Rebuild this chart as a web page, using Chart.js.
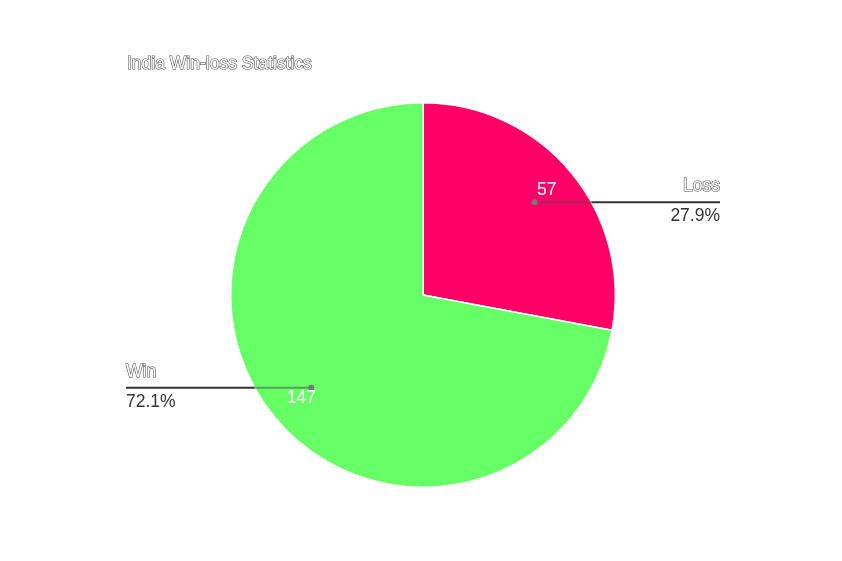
<!DOCTYPE html>
<html lang="en">
<head>
    <meta charset="UTF-8">
    <title>India Win-loss Statistics</title>
    <script src="https://cdn.jsdelivr.net/npm/chart.js"></script>
    <style>
        body {
            margin: 0;
            background: #fff;
        }
        #wrap {
            width: 842px;
            height: 561px;
        }
    </style>
</head>
<body>
    <div id="wrap">
        <canvas id="chart" width="842" height="561"></canvas>
    </div>

    <script>
        const chartTitle = 'India Win-loss Statistics';
        const categories = ['Loss', 'Win'];
        const matches = [57, 147];
        const sliceColors = ['#ff0066', '#66ff66'];

        // outlined text, the way the reference draws its title and names
        function outlined(ctx, text, x, y) {
            ctx.lineWidth = 1.2;
            ctx.strokeStyle = '#555';
            ctx.strokeText(text, x, y);
            ctx.fillStyle = '#fff';
            ctx.fillText(text, x, y);
        }

        const calloutPlugin = {
            id: 'callouts',
            afterDatasetsDraw(chart) {
                const ctx = chart.ctx;
                const meta = chart.getDatasetMeta(0);
                const total = matches.reduce((a, b) => a + b, 0);
                ctx.save();

                ctx.font = '17.5px "Liberation Sans", Arial, sans-serif';
                ctx.textAlign = 'left';
                ctx.textBaseline = 'middle';
                outlined(ctx, chartTitle, 127, 64);

                meta.data.forEach((arc, i) => {
                    const p = arc.getProps(['x', 'y', 'startAngle', 'endAngle', 'outerRadius']);
                    const mid = (p.startAngle + p.endAngle) / 2;
                    const r = p.outerRadius * 0.755;
                    const dx = p.x + Math.cos(mid) * r;
                    const dy = p.y + Math.sin(mid) * r;
                    const right = Math.cos(mid) >= 0;
                    const endX = right ? 720 : 126;
                    const edgeX = p.x + (right ? 1 : -1) * Math.sqrt(p.outerRadius ** 2 - (dy - p.y) ** 2);

                    // leader line: faint inside the slice, dark outside
                    ctx.lineWidth = 2;
                    ctx.strokeStyle = 'rgba(80,80,80,0.55)';
                    ctx.beginPath();
                    ctx.moveTo(dx, dy);
                    ctx.lineTo(edgeX, dy);
                    ctx.stroke();
                    ctx.strokeStyle = '#333';
                    ctx.beginPath();
                    ctx.moveTo(edgeX, dy);
                    ctx.lineTo(endX, dy);
                    ctx.stroke();

                    ctx.fillStyle = '#777';
                    ctx.beginPath();
                    ctx.arc(dx, dy, 3, 0, Math.PI * 2);
                    ctx.fill();

                    ctx.font = '17.5px "Liberation Sans", Arial, sans-serif';
                    ctx.textAlign = right ? 'right' : 'left';
                    outlined(ctx, categories[i], endX, dy - 16);
                    ctx.fillStyle = '#333';
                    ctx.fillText((matches[i] / total * 100).toFixed(1) + '%', endX, dy + 14);

                    ctx.textAlign = 'center';
                    ctx.fillStyle = '#fff';
                    ctx.fillText(String(matches[i]), dx + (right ? 12 : -10), dy + (right ? -12 : 10));
                });
                ctx.restore();
            }
        };

        new Chart(document.getElementById('chart'), {
            type: 'pie',
            data: {
                labels: categories,
                datasets: [{
                    data: matches,
                    backgroundColor: sliceColors,
                    borderColor: '#fff',
                    borderWidth: 1.5
                }]
            },
            options: {
                responsive: false,
                animation: false,
                devicePixelRatio: 1,
                layout: {
                    padding: { top: 102, bottom: 73, left: 30, right: 26 }
                },
                plugins: {
                    legend: { display: false },
                    tooltip: { enabled: false },
                    title: { display: false }
                }
            },
            plugins: [calloutPlugin]
        });
    </script>
</body>
</html>
